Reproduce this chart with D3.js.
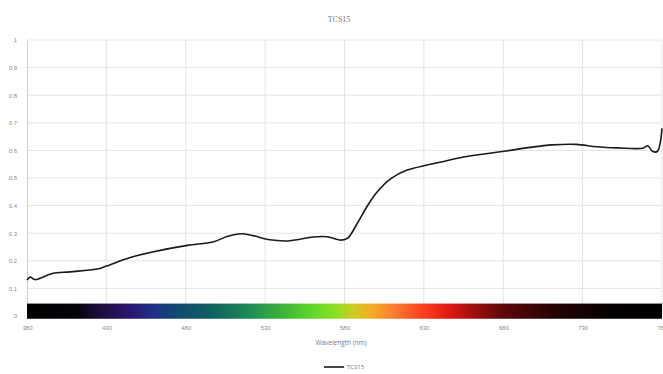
<!DOCTYPE html>
<html>
<head>
<meta charset="utf-8">
<script src="https://cdn.jsdelivr.net/npm/d3@7"></script>
<style>
  body { margin: 0; background: #fff; }
  svg { display: block; font-family: "Open Sans", "DejaVu Sans", sans-serif; }
</style>
</head>
<body>
<div id="chart"></div>
<script>
// values
const wavelength = [380, 382, 385, 396, 407, 424, 430, 445, 459, 481, 497, 506, 513, 516, 522, 533, 544, 552, 560, 569, 578, 582, 588, 594, 600, 609, 619, 632, 640, 655, 682, 697, 711, 726, 739, 752, 768, 771, 774, 777, 780];
const reflectance = [0.13, 0.141, 0.132, 0.154, 0.16, 0.17, 0.181, 0.212, 0.232, 0.256, 0.268, 0.288, 0.297, 0.298, 0.292, 0.276, 0.272, 0.278, 0.286, 0.287, 0.275, 0.282, 0.335, 0.395, 0.446, 0.497, 0.528, 0.547, 0.557, 0.576, 0.598, 0.611, 0.62, 0.622, 0.613, 0.609, 0.608, 0.617, 0.597, 0.596, 0.68];
const xTicks = [380, 430, 480, 530, 580, 630, 680, 730, 780];
const yTicks = [0, 0.1, 0.2, 0.3, 0.4, 0.5, 0.6, 0.7, 0.8, 0.9, 1];
const seriesName = 'TCS15';

// visible-spectrum strip under the curve (wavelength -> colour)
const spectrumWl = [380, 412, 425, 445, 460, 475, 495, 520, 540, 560, 575, 585, 597, 612, 630, 645, 660, 680, 710, 745, 780];
const spectrumColor = ['#000000', '#060309', '#1d0d3c', '#2b166e', '#1f3288', '#0f4a70', '#0f5f60', '#1e8a55', '#3bb23a', '#5fd82a', '#8fe024', '#cccc22', '#f4ac24', '#fb7a30', '#f83e20', '#e41a12', '#a41010', '#5e0808', '#280404', '#080000', '#000000'];

const W = 663, H = 374;
const margin = { top: 40, right: 1, bottom: 58, left: 27 };
const iw = W - margin.left - margin.right;
const ih = H - margin.top - margin.bottom;

const x = d3.scaleLinear().domain([380, 780]).range([0, iw]);
const y = d3.scaleLinear().domain([0, 1]).range([ih, 0]);

const svg = d3.select('#chart').append('svg').attr('width', W).attr('height', H);
const g = svg.append('g').attr('transform', `translate(${margin.left},${margin.top})`);

// gridlines
g.append('g').selectAll('line').data(yTicks.slice(1)).enter().append('line')
  .attr('x1', 0).attr('x2', iw).attr('y1', d => y(d)).attr('y2', d => y(d))
  .attr('stroke', '#e4e4e4').attr('stroke-width', 1);
g.append('g').selectAll('line').data(xTicks.slice(1)).enter().append('line')
  .attr('x1', d => x(d)).attr('x2', d => x(d)).attr('y1', 0).attr('y2', ih)
  .attr('stroke', '#e4e4e4').attr('stroke-width', 1);

// y axis
const yAxis = g.append('g').call(d3.axisLeft(y).tickValues(yTicks).tickSize(0).tickPadding(10).tickFormat(d3.format('~g')));
yAxis.select('.domain').attr('stroke', '#cfcfcf');
yAxis.selectAll('text').attr('fill', '#8a8a8a').style('font-size', '6px');

// x axis labels
const xAxis = g.append('g').attr('transform', `translate(0,${ih})`)
  .call(d3.axisBottom(x).tickValues(xTicks).tickSize(0).tickPadding(10).tickFormat(d3.format('d')));
xAxis.select('.domain').remove();
xAxis.selectAll('text').attr('fill', '#8a8a8a').style('font-size', '6px');

// spectrum strip
const defs = svg.append('defs');
const grad = defs.append('linearGradient').attr('id', 'spectrum')
  .attr('gradientUnits', 'userSpaceOnUse')
  .attr('x1', x(380)).attr('x2', x(780)).attr('y1', 0).attr('y2', 0);
grad.selectAll('stop').data(spectrumWl).enter().append('stop')
  .attr('offset', d => (d - 380) / 400)
  .attr('stop-color', (d, i) => spectrumColor[i]);

g.append('rect')
  .attr('x', x(380)).attr('width', x(780) - x(380))
  .attr('y', y(0.045)).attr('height', y(-0.01) - y(0.045))
  .attr('fill', 'url(#spectrum)');

// the curve
const line = d3.line()
  .x((d, i) => x(wavelength[i]))
  .y(d => y(d))
  .curve(d3.curveCatmullRom.alpha(0.5));

g.append('path').datum(reflectance)
  .attr('fill', 'none').attr('stroke', '#1a1a1a').attr('stroke-width', 1.6)
  .attr('stroke-linejoin', 'round')
  .attr('d', line);

// title
svg.append('text').attr('x', 339).attr('y', 22).attr('text-anchor', 'middle')
  .attr('fill', '#777').style('font-size', '8px').style('font-family', '"Liberation Serif", serif')
  .text(seriesName);

// x axis title
svg.append('text').attr('x', 341).attr('y', 345).attr('text-anchor', 'middle')
  .attr('fill', '#777').style('font-size', '6.5px')
  .text('Wavelength (nm)');

// legend
const lg = svg.append('g').attr('transform', 'translate(324,367)');
lg.append('line').attr('x1', 0).attr('x2', 20).attr('y1', 0).attr('y2', 0)
  .attr('stroke', '#1a1a1a').attr('stroke-width', 1.6);
lg.append('text').attr('x', 23).attr('y', 2).attr('fill', '#777').style('font-size', '6px').text(seriesName);
</script>
</body>
</html>
